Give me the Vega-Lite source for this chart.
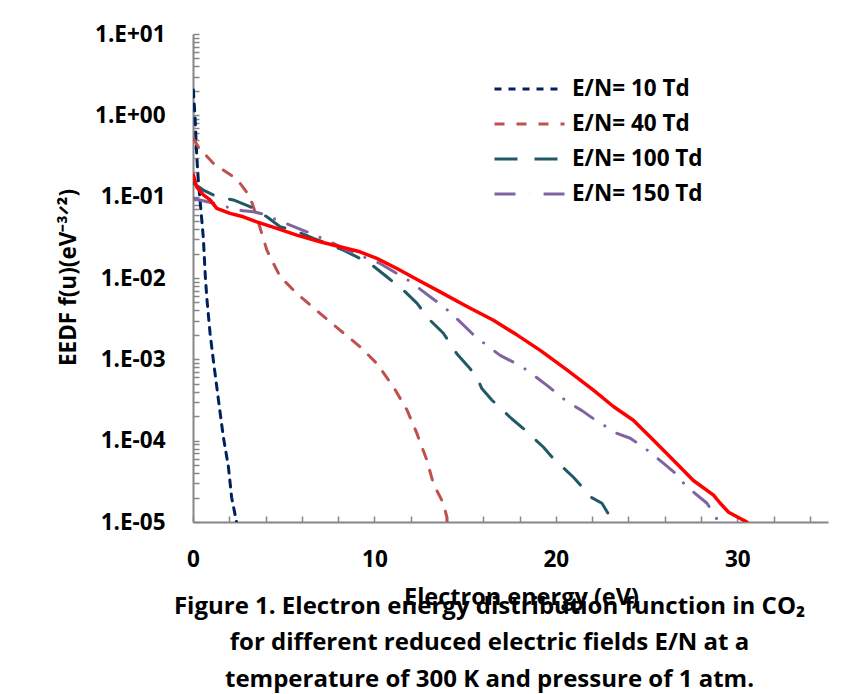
{
  "$schema": "https://vega.github.io/schema/vega-lite/v6.json",
  "width": 635,
  "height": 488,
  "autosize": {"type": "none"},
  "padding": {"left": 193, "top": 34, "right": 31, "bottom": 172},
  "background": "white",
  "config": {"view": {"stroke": null}, "font": "Open Sans"},
  "title": {
    "text": ["Figure 1. Electron energy distribution function in CO₂", "for different reduced electric fields E/N at a", "temperature of 300 K and pressure of 1 atm."],
    "orient": "bottom",
    "anchor": "middle",
    "font": "Open Sans",
    "fontSize": 24,
    "fontWeight": "bold",
    "color": "black",
    "lineHeight": 36.5,
    "offset": -14,
    "dx": -21
  },
  "data": {
    "values": [
      {"series": "E/N= 10 Td", "energy": 0.02, "eedf": 2.05},
      {"series": "E/N= 10 Td", "energy": 0.11, "eedf": 0.96},
      {"series": "E/N= 10 Td", "energy": 0.2, "eedf": 0.34},
      {"series": "E/N= 10 Td", "energy": 0.29, "eedf": 0.16},
      {"series": "E/N= 10 Td", "energy": 0.42, "eedf": 0.075},
      {"series": "E/N= 10 Td", "energy": 0.57, "eedf": 0.031},
      {"series": "E/N= 10 Td", "energy": 0.68, "eedf": 0.0104},
      {"series": "E/N= 10 Td", "energy": 0.77, "eedf": 0.0054},
      {"series": "E/N= 10 Td", "energy": 0.94, "eedf": 0.0021},
      {"series": "E/N= 10 Td", "energy": 1.12, "eedf": 0.00098},
      {"series": "E/N= 10 Td", "energy": 1.4, "eedf": 0.00032},
      {"series": "E/N= 10 Td", "energy": 1.67, "eedf": 0.000112},
      {"series": "E/N= 10 Td", "energy": 1.95, "eedf": 0.000048},
      {"series": "E/N= 10 Td", "energy": 2.13, "eedf": 0.00002},
      {"series": "E/N= 10 Td", "energy": 2.4, "eedf": 0.00001},
      {"series": "E/N= 40 Td", "energy": 0.02, "eedf": 0.52},
      {"series": "E/N= 40 Td", "energy": 0.29, "eedf": 0.41},
      {"series": "E/N= 40 Td", "energy": 1.12, "eedf": 0.257},
      {"series": "E/N= 40 Td", "energy": 2.22, "eedf": 0.176},
      {"series": "E/N= 40 Td", "energy": 2.59, "eedf": 0.146},
      {"series": "E/N= 40 Td", "energy": 3.14, "eedf": 0.1},
      {"series": "E/N= 40 Td", "energy": 3.51, "eedf": 0.0566},
      {"series": "E/N= 40 Td", "energy": 4.07, "eedf": 0.022},
      {"series": "E/N= 40 Td", "energy": 4.8, "eedf": 0.0104},
      {"series": "E/N= 40 Td", "energy": 5.72, "eedf": 0.00646},
      {"series": "E/N= 40 Td", "energy": 7.0, "eedf": 0.00367},
      {"series": "E/N= 40 Td", "energy": 8.1, "eedf": 0.00229},
      {"series": "E/N= 40 Td", "energy": 9.2, "eedf": 0.00143},
      {"series": "E/N= 40 Td", "energy": 10.13, "eedf": 0.00089},
      {"series": "E/N= 40 Td", "energy": 11.05, "eedf": 0.000457},
      {"series": "E/N= 40 Td", "energy": 11.79, "eedf": 0.00024},
      {"series": "E/N= 40 Td", "energy": 12.34, "eedf": 0.000123},
      {"series": "E/N= 40 Td", "energy": 12.89, "eedf": 0.0000575},
      {"series": "E/N= 40 Td", "energy": 13.25, "eedf": 0.0000295},
      {"series": "E/N= 40 Td", "energy": 13.8, "eedf": 0.000017},
      {"series": "E/N= 40 Td", "energy": 13.99, "eedf": 0.0000115},
      {"series": "E/N= 40 Td", "energy": 14.0, "eedf": 0.00001},
      {"series": "E/N= 100 Td", "energy": 0.02, "eedf": 0.146},
      {"series": "E/N= 100 Td", "energy": 0.57, "eedf": 0.1205},
      {"series": "E/N= 100 Td", "energy": 1.31, "eedf": 0.1},
      {"series": "E/N= 100 Td", "energy": 2.22, "eedf": 0.0912},
      {"series": "E/N= 100 Td", "energy": 3.14, "eedf": 0.0752},
      {"series": "E/N= 100 Td", "energy": 4.07, "eedf": 0.0566},
      {"series": "E/N= 100 Td", "energy": 4.8, "eedf": 0.0427},
      {"series": "E/N= 100 Td", "energy": 5.53, "eedf": 0.0389},
      {"series": "E/N= 100 Td", "energy": 6.64, "eedf": 0.0307},
      {"series": "E/N= 100 Td", "energy": 7.37, "eedf": 0.0266},
      {"series": "E/N= 100 Td", "energy": 8.29, "eedf": 0.022},
      {"series": "E/N= 100 Td", "energy": 9.76, "eedf": 0.0151},
      {"series": "E/N= 100 Td", "energy": 10.68, "eedf": 0.01035},
      {"series": "E/N= 100 Td", "energy": 11.6, "eedf": 0.00708},
      {"series": "E/N= 100 Td", "energy": 12.34, "eedf": 0.0049},
      {"series": "E/N= 100 Td", "energy": 13.07, "eedf": 0.00302},
      {"series": "E/N= 100 Td", "energy": 13.8, "eedf": 0.00209},
      {"series": "E/N= 100 Td", "energy": 14.54, "eedf": 0.00117},
      {"series": "E/N= 100 Td", "energy": 15.18, "eedf": 0.000813},
      {"series": "E/N= 100 Td", "energy": 15.65, "eedf": 0.000603},
      {"series": "E/N= 100 Td", "energy": 15.92, "eedf": 0.000437},
      {"series": "E/N= 100 Td", "energy": 16.47, "eedf": 0.000316},
      {"series": "E/N= 100 Td", "energy": 17.57, "eedf": 0.000186},
      {"series": "E/N= 100 Td", "energy": 18.21, "eedf": 0.000141},
      {"series": "E/N= 100 Td", "energy": 19.32, "eedf": 0.000083},
      {"series": "E/N= 100 Td", "energy": 19.87, "eedf": 0.00006},
      {"series": "E/N= 100 Td", "energy": 20.97, "eedf": 0.0000355},
      {"series": "E/N= 100 Td", "energy": 21.53, "eedf": 0.0000257},
      {"series": "E/N= 100 Td", "energy": 21.9, "eedf": 0.0000204},
      {"series": "E/N= 100 Td", "energy": 22.54, "eedf": 0.000017},
      {"series": "E/N= 100 Td", "energy": 23.0, "eedf": 0.0000115},
      {"series": "E/N= 100 Td", "energy": 23.37, "eedf": 0.00001},
      {"series": "E/N= 150 Td", "energy": 0.02, "eedf": 0.095},
      {"series": "E/N= 150 Td", "energy": 1.49, "eedf": 0.0794},
      {"series": "E/N= 150 Td", "energy": 2.41, "eedf": 0.0684},
      {"series": "E/N= 150 Td", "energy": 3.33, "eedf": 0.0653},
      {"series": "E/N= 150 Td", "energy": 4.07, "eedf": 0.0594},
      {"series": "E/N= 150 Td", "energy": 4.62, "eedf": 0.0515},
      {"series": "E/N= 150 Td", "energy": 5.35, "eedf": 0.0447},
      {"series": "E/N= 150 Td", "energy": 6.27, "eedf": 0.037},
      {"series": "E/N= 150 Td", "energy": 7.56, "eedf": 0.0279},
      {"series": "E/N= 150 Td", "energy": 8.48, "eedf": 0.022},
      {"series": "E/N= 150 Td", "energy": 10.31, "eedf": 0.0151},
      {"series": "E/N= 150 Td", "energy": 11.88, "eedf": 0.00933},
      {"series": "E/N= 150 Td", "energy": 13.07, "eedf": 0.00589},
      {"series": "E/N= 150 Td", "energy": 13.8, "eedf": 0.00447},
      {"series": "E/N= 150 Td", "energy": 14.45, "eedf": 0.00331},
      {"series": "E/N= 150 Td", "energy": 15.46, "eedf": 0.002},
      {"series": "E/N= 150 Td", "energy": 16.2, "eedf": 0.00148},
      {"series": "E/N= 150 Td", "energy": 16.93, "eedf": 0.00112},
      {"series": "E/N= 150 Td", "energy": 18.13, "eedf": 0.000813},
      {"series": "E/N= 150 Td", "energy": 18.86, "eedf": 0.000617},
      {"series": "E/N= 150 Td", "energy": 19.51, "eedf": 0.000479},
      {"series": "E/N= 150 Td", "energy": 20.61, "eedf": 0.000302},
      {"series": "E/N= 150 Td", "energy": 21.44, "eedf": 0.000234},
      {"series": "E/N= 150 Td", "energy": 22.07, "eedf": 0.000186},
      {"series": "E/N= 150 Td", "energy": 23.37, "eedf": 0.000123},
      {"series": "E/N= 150 Td", "energy": 24.1, "eedf": 0.000107},
      {"series": "E/N= 150 Td", "energy": 24.84, "eedf": 0.000083},
      {"series": "E/N= 150 Td", "energy": 25.94, "eedf": 0.0000525},
      {"series": "E/N= 150 Td", "energy": 26.64, "eedf": 0.0000389},
      {"series": "E/N= 150 Td", "energy": 27.14, "eedf": 0.0000282},
      {"series": "E/N= 150 Td", "energy": 28.33, "eedf": 0.000017},
      {"series": "E/N= 150 Td", "energy": 28.8, "eedf": 0.0000117},
      {"series": "E/N= 150 Td", "energy": 28.95, "eedf": 0.00001},
      {"series": "E/N= 200 Td", "energy": 0.02, "eedf": 0.185},
      {"series": "E/N= 200 Td", "energy": 0.2, "eedf": 0.132},
      {"series": "E/N= 200 Td", "energy": 0.57, "eedf": 0.105},
      {"series": "E/N= 200 Td", "energy": 0.94, "eedf": 0.0912},
      {"series": "E/N= 200 Td", "energy": 1.31, "eedf": 0.0718},
      {"series": "E/N= 200 Td", "energy": 2.04, "eedf": 0.0624},
      {"series": "E/N= 200 Td", "energy": 2.77, "eedf": 0.0566},
      {"series": "E/N= 200 Td", "energy": 3.51, "eedf": 0.0491},
      {"series": "E/N= 200 Td", "energy": 4.62, "eedf": 0.0407},
      {"series": "E/N= 200 Td", "energy": 5.72, "eedf": 0.0337},
      {"series": "E/N= 200 Td", "energy": 7.0, "eedf": 0.0279},
      {"series": "E/N= 200 Td", "energy": 8.1, "eedf": 0.0242},
      {"series": "E/N= 200 Td", "energy": 9.2, "eedf": 0.021},
      {"series": "E/N= 200 Td", "energy": 10.13, "eedf": 0.0174},
      {"series": "E/N= 200 Td", "energy": 11.24, "eedf": 0.0131},
      {"series": "E/N= 200 Td", "energy": 12.3, "eedf": 0.0097},
      {"series": "E/N= 200 Td", "energy": 13.62, "eedf": 0.00676},
      {"series": "E/N= 200 Td", "energy": 15.1, "eedf": 0.00447},
      {"series": "E/N= 200 Td", "energy": 16.56, "eedf": 0.00302},
      {"series": "E/N= 200 Td", "energy": 17.85, "eedf": 0.002},
      {"series": "E/N= 200 Td", "energy": 19.14, "eedf": 0.00129},
      {"series": "E/N= 200 Td", "energy": 20.61, "eedf": 0.000741},
      {"series": "E/N= 200 Td", "energy": 22.07, "eedf": 0.000417},
      {"series": "E/N= 200 Td", "energy": 23.17, "eedf": 0.000263},
      {"series": "E/N= 200 Td", "energy": 24.27, "eedf": 0.000178},
      {"series": "E/N= 200 Td", "energy": 25.37, "eedf": 0.000102},
      {"series": "E/N= 200 Td", "energy": 26.48, "eedf": 0.0000575},
      {"series": "E/N= 200 Td", "energy": 27.58, "eedf": 0.0000324},
      {"series": "E/N= 200 Td", "energy": 28.69, "eedf": 0.0000214},
      {"series": "E/N= 200 Td", "energy": 29.06, "eedf": 0.000017},
      {"series": "E/N= 200 Td", "energy": 29.52, "eedf": 0.0000132},
      {"series": "E/N= 200 Td", "energy": 30.53, "eedf": 0.00001}
    ]
  },
  "encoding": {
    "x": {
      "field": "energy", "type": "quantitative",
      "scale": {"domain": [0, 35], "nice": false, "zero": false},
      "axis": {
        "title": "Electron energy (eV)",
        "values": [0, 2, 4, 6, 8, 10, 12, 14, 16, 18, 20, 22, 24, 26, 28, 30, 32, 34],
        "labelExpr": "datum.value % 10 == 0 ? format(datum.value, 'd') : ''",
        "labelOverlap": false,
        "labelSeparation": 0,
        "labelFlush": false,
        "labelFont": "Open Sans", "labelFontSize": 22.5, "labelFontWeight": "bold", "labelColor": "black",
        "labelPadding": 32,
        "tickSize": -6, "tickColor": "#868686", "tickWidth": 1.5,
        "domainColor": "#868686", "domainWidth": 2,
        "grid": false,
        "titleFont": "Open Sans", "titleFontSize": 23.5, "titleFontWeight": "bold", "titleColor": "black",
        "titleX": 328, "titleY": 75, "titleBaseline": "middle", "titleAlign": "center"
      }
    },
    "y": {
      "field": "eedf", "type": "quantitative",
      "scale": {"type": "log", "domain": [0.00001, 10], "nice": false},
      "axis": {
        "title": "EEDF f(u)(eV⁻³ᐟ²)",
        "values": [0.00001, 0.00002, 0.00003, 0.00004, 0.00005, 0.00006, 0.00007, 0.00008, 0.00009,
                   0.0001, 0.0002, 0.0003, 0.0004, 0.0005, 0.0006, 0.0007, 0.0008, 0.0009,
                   0.001, 0.002, 0.003, 0.004, 0.005, 0.006, 0.007, 0.008, 0.009,
                   0.01, 0.02, 0.03, 0.04, 0.05, 0.06, 0.07, 0.08, 0.09,
                   0.1, 0.2, 0.3, 0.4, 0.5, 0.6, 0.7, 0.8, 0.9,
                   1, 2, 3, 4, 5, 6, 7, 8, 9, 10],
        "labelExpr": "abs(log(datum.value)/LN10 - round(log(datum.value)/LN10)) < 0.001 ? '1.E' + (round(log(datum.value)/LN10) >= 0 ? '+' : '-') + '0' + abs(round(log(datum.value)/LN10)) : ''",
        "labelOverlap": false,
        "labelBound": false,
        "labelFont": "Open Sans", "labelFontSize": 22.5, "labelFontWeight": "bold", "labelColor": "black",
        "labelPadding": 34,
        "tickSize": -6, "tickColor": "#868686", "tickWidth": 1.5,
        "domainColor": "#868686", "domainWidth": 2,
        "grid": false,
        "titleFont": "Open Sans", "titleFontSize": 22.5, "titleFontWeight": "bold", "titleColor": "black",
        "titleX": -125, "titleY": 243, "titleAngle": -90, "titleAlign": "center", "titleBaseline": "middle"
      }
    }
  },
  "layer": [
    {
      "transform": [{"filter": "datum.series != 'E/N= 200 Td'"}],
      "mark": {"type": "line", "strokeWidth": 3, "strokeCap": "round", "strokeJoin": "round", "clip": true},
      "encoding": {
        "color": {
          "field": "series", "type": "nominal",
          "scale": {"domain": ["E/N= 10 Td", "E/N= 40 Td", "E/N= 100 Td", "E/N= 150 Td"],
                    "range": ["#002060", "#C0504D", "#215967", "#8064A2"]},
          "legend": {
            "title": null,
            "orient": "none",
            "legendX": 300,
            "legendY": 41,
            "symbolType": "stroke",
            "symbolSize": 4900,
            "symbolStrokeWidth": 3,
            "clipHeight": 28,
            "labelFont": "Open Sans", "labelFontSize": 22.5, "labelFontWeight": "bold", "labelColor": "black",
            "labelOffset": 6,
            "rowPadding": 7
          }
        },
        "strokeDash": {
          "field": "series", "type": "nominal",
          "scale": {"domain": ["E/N= 10 Td", "E/N= 40 Td", "E/N= 100 Td", "E/N= 150 Td"],
                    "range": [[7, 7], [10, 12], [23, 17], [21, 14, 0.1, 14]]},
          "legend": {
            "title": null,
            "orient": "none",
            "legendX": 300,
            "legendY": 41,
            "symbolType": "stroke",
            "symbolSize": 4900,
            "symbolStrokeWidth": 3,
            "clipHeight": 28,
            "labelFont": "Open Sans", "labelFontSize": 22.5, "labelFontWeight": "bold", "labelColor": "black",
            "labelOffset": 6,
            "rowPadding": 7
          }
        }
      }
    },
    {
      "transform": [{"filter": "datum.series == 'E/N= 200 Td'"}],
      "mark": {"type": "line", "color": "#FF0000", "strokeWidth": 3.5, "strokeCap": "round", "strokeJoin": "round", "clip": true}
    }
  ]
}
